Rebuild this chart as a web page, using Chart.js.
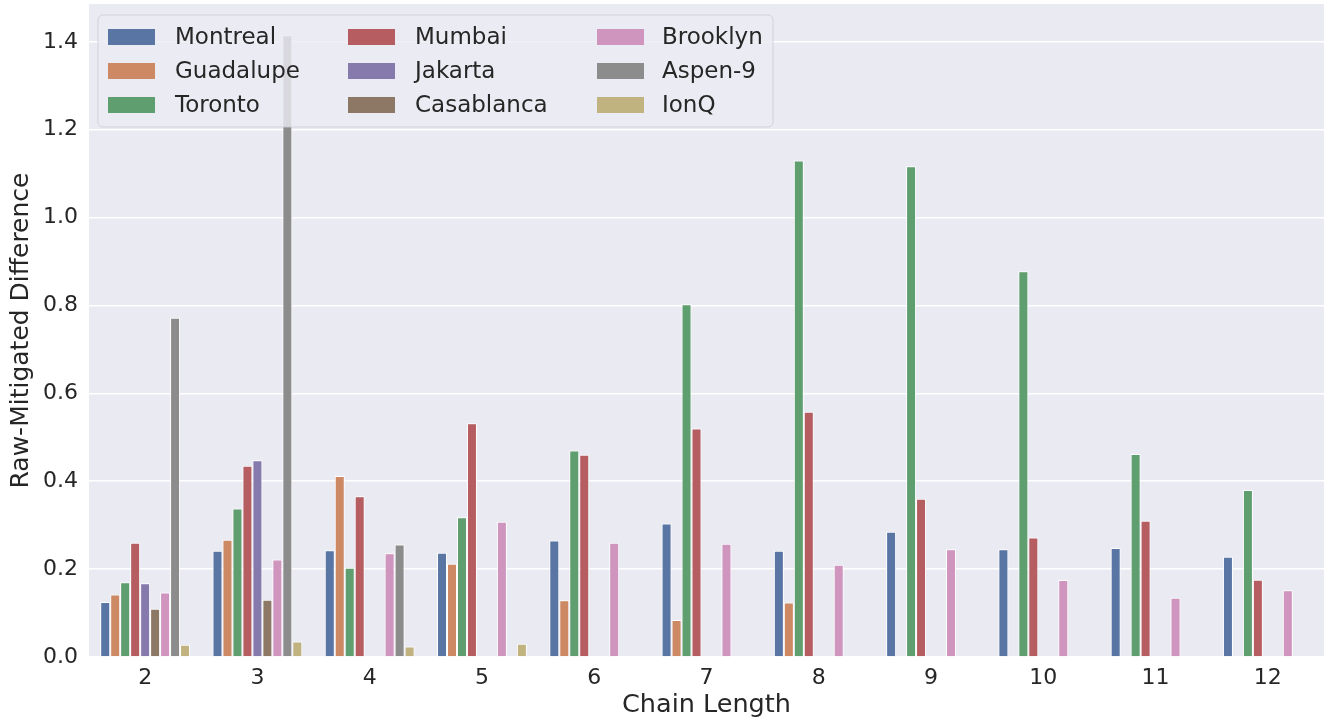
<!DOCTYPE html>
<html>
<head>
<meta charset="utf-8">
<script src="https://cdn.jsdelivr.net/npm/chart.js@4.4.1/dist/chart.umd.min.js"></script>
<style>
  html, body { margin: 0; padding: 0; background: #ffffff; }
  #wrap { width: 1340px; height: 722px; }
</style>
</head>
<body>
<div id="wrap"><canvas id="chart" width="1340" height="722"></canvas></div>
<script>
// chain lengths on the x axis
const chainLengths = ['2', '3', '4', '5', '6', '7', '8', '9', '10', '11', '12'];
const yTicks = [0, 0.2, 0.4, 0.6, 0.8, 1.0, 1.2, 1.4];

const montreal   = [0.125, 0.242, 0.243, 0.237, 0.265, 0.304, 0.242, 0.285, 0.245, 0.248, 0.228];
const guadalupe  = [0.142, 0.267, 0.412, 0.212, 0.129, 0.084, 0.124, null, null, null, null];
const toronto    = [0.170, 0.338, 0.203, 0.318, 0.470, 0.803, 1.130, 1.117, 0.878, 0.462, 0.380];
const mumbai     = [0.260, 0.435, 0.366, 0.532, 0.460, 0.520, 0.558, 0.360, 0.272, 0.310, 0.176];
const jakarta    = [0.168, 0.448, null, null, null, null, null, null, null, null, null];
const casablanca = [0.110, 0.130, null, null, null, null, null, null, null, null, null];
const brooklyn   = [0.147, 0.222, 0.236, 0.308, 0.260, 0.258, 0.210, 0.245, 0.175, 0.135, 0.152];
const aspen9     = [0.772, 1.415, 0.256, null, null, null, null, null, null, null, null];
const ionq       = [0.028, 0.035, 0.024, 0.030, null, null, null, null, null, null, null];

const seriesNames = ['Montreal', 'Guadalupe', 'Toronto', 'Mumbai', 'Jakarta', 'Casablanca', 'Brooklyn', 'Aspen-9', 'IonQ'];
const seriesValues = [montreal, guadalupe, toronto, mumbai, jakarta, casablanca, brooklyn, aspen9, ionq];

// seaborn "deep" palette at saturation 0.75
const palette = ['#5975a4', '#cc8963', '#5f9e6e', '#b55d60', '#857aab', '#8d7866', '#d095bf', '#8c8c8c', '#c1b37f'];

const FONT = "'DejaVu Sans', sans-serif";
const TEXT = '#262626';

// legend drawn by hand: 3 columns, filled column by column like matplotlib
const legendBox = {
    id: 'legendBox',
    afterDraw(chart) {
        const ctx = chart.ctx;
        const x = 98, y = 15, w = 675, h = 112, r = 5;
        ctx.save();
        ctx.beginPath();
        ctx.roundRect(x, y, w, h, r);
        ctx.fillStyle = 'rgba(235,235,242,0.8)';
        ctx.fill();
        ctx.lineWidth = 1;
        ctx.strokeStyle = 'rgba(204,204,210,0.8)';
        ctx.stroke();

        const patchX = [108, 348, 597];
        const textX = [175, 415, 662];
        const rowY = [37, 71, 105];
        ctx.font = '23px ' + FONT;
        ctx.textBaseline = 'middle';
        ctx.textAlign = 'left';
        chart.data.datasets.forEach((ds, i) => {
            const col = Math.floor(i / 3), row = i % 3;
            ctx.fillStyle = ds.backgroundColor;
            ctx.fillRect(patchX[col], rowY[row] - 8, 47, 16);
            ctx.fillStyle = TEXT;
            ctx.fillText(ds.label, textX[col], rowY[row] + 1);
        });
        ctx.restore();
    }
};

const plotBg = {
    id: 'plotBg',
    beforeDraw(chart) {
        const a = chart.chartArea, ctx = chart.ctx;
        ctx.save();
        ctx.fillStyle = '#eaeaf2';
        ctx.fillRect(a.left, a.top, a.right - a.left, a.bottom - a.top);
        ctx.restore();
    }
};

new Chart(document.getElementById('chart'), {
    type: 'bar',
    data: {
        labels: chainLengths,
        datasets: seriesNames.map((name, i) => ({
            label: name,
            data: seriesValues[i],
            backgroundColor: palette[i],
            borderColor: '#ffffff',
            borderWidth: 1,
            categoryPercentage: 0.8,
            barPercentage: 1.0
        }))
    },
    options: {
        responsive: false,
        animation: false,
        devicePixelRatio: 1,
        layout: { padding: { top: 4, right: 16, left: 0, bottom: 0 } },
        plugins: {
            legend: { display: false },
            tooltip: { enabled: false }
        },
        scales: {
            x: {
                grid: { display: false, drawTicks: false },
                border: { display: false },
                ticks: { color: TEXT, font: { family: FONT, size: 22 }, padding: 8 },
                title: {
                    display: true, text: 'Chain Length', color: TEXT,
                    font: { family: FONT, size: 25.5 }, padding: { top: 0, bottom: 1 }
                },
                afterFit(scale) {
                    scale.height = 65;
                    scale.paddingLeft = 0;
                    scale.paddingRight = 0;
                }
            },
            y: {
                min: 0,
                max: 1.486,
                grid: { color: '#ffffff', lineWidth: 1.5, drawTicks: false },
                border: { display: false },
                ticks: {
                    color: TEXT, font: { family: FONT, size: 22 }, padding: 11,
                    stepSize: 0.2,
                    callback: v => v.toFixed(1)
                },
                afterBuildTicks(scale) {
                    scale.ticks = yTicks.map(v => ({ value: v }));
                },
                title: {
                    display: true, text: 'Raw-Mitigated Difference', color: TEXT,
                    font: { family: FONT, size: 25 }, padding: { top: 6, bottom: 4 }
                },
                afterFit(scale) {
                    scale.width = 89;
                    scale.paddingTop = 0;
                    scale.paddingBottom = 0;
                }
            }
        }
    },
    plugins: [plotBg, legendBox]
});
</script>
</body>
</html>
